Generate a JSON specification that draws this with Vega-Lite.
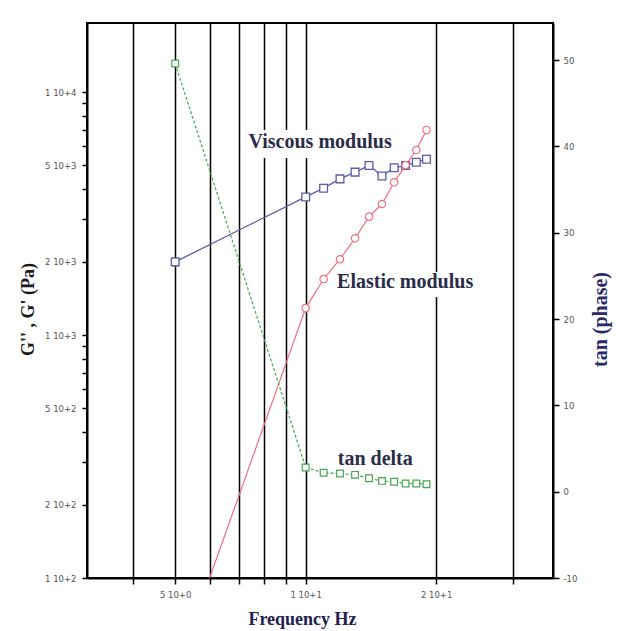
{
  "$schema": "https://vega.github.io/schema/vega-lite/v6.json",
  "width": 466,
  "height": 555,
  "autosize": {"type": "none"},
  "padding": {"left": 87, "top": 23, "right": 77, "bottom": 53},
  "background": "white",
  "config": {
    "view": {"stroke": "black", "strokeWidth": 2},
    "axis": {
      "domainColor": "black", "domainWidth": 2, "tickColor": "black", "tickWidth": 1.5,
      "labelColor": "#555", "labelFont": "DejaVu Sans", "labelFontSize": 8.5,
      "labelOverlap": false, "titleFont": "Liberation Serif", "titleFontWeight": "bold",
      "titleFontSize": 19
    }
  },
  "datasets": {
    "meas": [
      {"f": 5, "visc": 2000, "elas": 40, "tan": 49.6},
      {"f": 10, "visc": 3700, "elas": 1290, "tan": 2.8},
      {"f": 11, "visc": 4020, "elas": 1700, "tan": 2.2},
      {"f": 12, "visc": 4390, "elas": 2050, "tan": 2.1},
      {"f": 13, "visc": 4680, "elas": 2500, "tan": 1.95},
      {"f": 14, "visc": 4980, "elas": 3070, "tan": 1.55},
      {"f": 15, "visc": 4510, "elas": 3460, "tan": 1.25},
      {"f": 16, "visc": 4880, "elas": 4250, "tan": 1.15},
      {"f": 17, "visc": 4980, "elas": 5000, "tan": 0.95},
      {"f": 18, "visc": 5140, "elas": 5770, "tan": 0.95},
      {"f": 19, "visc": 5290, "elas": 6980, "tan": 0.87}
    ],
    "notes": [
      {"f": 10.8, "y": 6222, "text": "Viscous modulus", "f1": 7.2, "f2": 16.2, "y1": 6976, "y2": 5352},
      {"f": 16.96, "y": 1652, "text": "Elastic modulus", "f1": 11.75, "f2": 24.7, "y1": 1815, "y2": 1432},
      {"f": 14.47, "y": 309, "text": "tan delta", "f1": 14.47, "f2": 14.47, "y1": 309, "y2": 309}
    ]
  },
  "layer": [
    {
      "layer": [
        {
          "data": {"name": "notes"},
          "mark": {"type": "rect", "color": "white", "clip": true},
          "encoding": {
            "x": {
              "field": "f1", "type": "quantitative",
              "scale": {"type": "log", "domain": [3.13, 37.2], "nice": false},
              "axis": {
                "title": "Frequency Hz", "titleColor": "#1e2050", "titleX": 215, "titleY": 41,
                "titleAlign": "center", "titleBaseline": "middle", "titleFontSize": 18,
                "values": [4, 5, 6, 7, 8, 9, 10, 20, 30],
                "grid": true, "gridColor": "black", "gridWidth": 1.5, "gridOpacity": 1,
                "tickSize": 6, "labelPadding": 6,
                "labelExpr": "datum.value==5?'5 10+0':datum.value==10?'1 10+1':datum.value==20?'2 10+1':''"
              }
            },
            "x2": {"field": "f2"},
            "y": {
              "field": "y1", "type": "quantitative",
              "scale": {"type": "log", "domain": [100, 19230], "nice": false},
              "axis": {
                "title": "G'' ,  G'   (Pa)", "titleColor": "#1a1a1a", "titleX": -59, "titleY": 286,
                "titleAngle": -90, "titleAlign": "center", "titleBaseline": "middle", "titleFontSize": 18,
                "values": [100, 200, 300, 400, 500, 600, 700, 800, 900, 1000, 2000, 3000, 4000, 5000, 6000, 7000, 8000, 9000, 10000],
                "grid": false, "tickSize": 5, "labelPadding": 6,
                "labelExpr": "datum.value==10000?'1 10+4':datum.value==5000?'5 10+3':datum.value==2000?'2 10+3':datum.value==1000?'1 10+3':datum.value==500?'5 10+2':datum.value==200?'2 10+2':datum.value==100?'1 10+2':''"
              }
            },
            "y2": {"field": "y2"}
          }
        },
        {
          "data": {"name": "meas"},
          "mark": {"type": "line", "color": "#5b5ba8", "strokeWidth": 1.3, "clip": true},
          "encoding": {
            "x": {"field": "f", "type": "quantitative"},
            "y": {"field": "visc", "type": "quantitative"}
          }
        },
        {
          "data": {"name": "meas"},
          "mark": {"type": "point", "shape": "square", "color": "#5b5ba8", "filled": false, "fill": "white", "fillOpacity": 1, "size": 60, "strokeWidth": 1.3, "clip": true},
          "encoding": {
            "x": {"field": "f", "type": "quantitative"},
            "y": {"field": "visc", "type": "quantitative"}
          }
        },
        {
          "data": {"name": "meas"},
          "mark": {"type": "line", "color": "#ef6f7f", "strokeWidth": 1.2, "clip": true},
          "encoding": {
            "x": {"field": "f", "type": "quantitative"},
            "y": {"field": "elas", "type": "quantitative"}
          }
        },
        {
          "data": {"name": "meas"},
          "mark": {"type": "point", "shape": "circle", "color": "#ef6f7f", "filled": false, "fill": "white", "fillOpacity": 1, "size": 55, "strokeWidth": 1.2, "clip": true},
          "encoding": {
            "x": {"field": "f", "type": "quantitative"},
            "y": {"field": "elas", "type": "quantitative"}
          }
        },
        {
          "data": {"name": "notes"},
          "mark": {"type": "text", "font": "Liberation Serif", "fontWeight": "bold", "fontSize": 20, "color": "#2b2b4a", "align": "center", "baseline": "middle"},
          "encoding": {
            "x": {"field": "f", "type": "quantitative"},
            "y": {"field": "y", "type": "quantitative"},
            "text": {"field": "text"}
          }
        }
      ]
    },
    {
      "data": {"name": "meas"},
      "layer": [
        {
          "mark": {"type": "line", "color": "#45a84f", "strokeWidth": 1.2, "strokeDash": [3, 2], "clip": true},
          "encoding": {
            "x": {"field": "f", "type": "quantitative"},
            "y": {
              "field": "tan", "type": "quantitative",
              "scale": {"domain": [-10, 54.3], "nice": false, "zero": false},
              "axis": {
                "orient": "right", "title": "tan (phase)", "titleColor": "#2a2a6a",
                "titleX": 47, "titleY": 296, "titleAngle": -90, "titleAlign": "center", "titleBaseline": "middle",
                "titleFontSize": 20,
                "values": [-10, 0, 10, 20, 30, 40, 50], "grid": false, "tickSize": 6, "labelPadding": 4,
                "labelExpr": "datum.value < 0 ? '-' + abs(datum.value) : '' + datum.value"
              }
            }
          }
        },
        {
          "mark": {"type": "point", "shape": "square", "color": "#45a84f", "filled": false, "fill": "white", "fillOpacity": 1, "size": 45, "strokeWidth": 1.2, "clip": true},
          "encoding": {
            "x": {"field": "f", "type": "quantitative"},
            "y": {"field": "tan", "type": "quantitative"}
          }
        }
      ]
    }
  ],
  "resolve": {"scale": {"y": "independent"}}
}
